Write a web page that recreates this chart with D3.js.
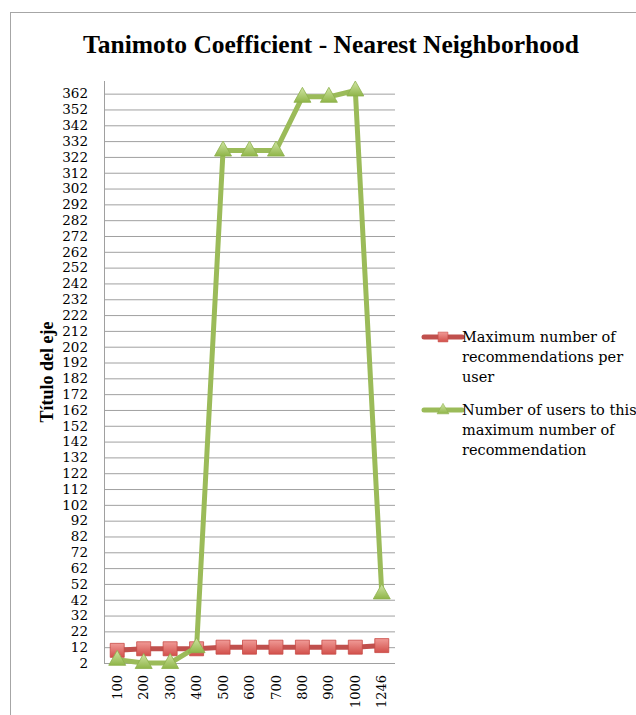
<!DOCTYPE html>
<html>
<head>
<meta charset="utf-8">
<script src="https://cdn.jsdelivr.net/npm/d3@7"></script>
<style>
  html, body { margin: 0; padding: 0; background: #fff; }
  svg { display: block; }
</style>
</head>
<body>
<svg id="chart" width="636" height="715"></svg>
<script>
// Category labels along the x axis
const categories = ["100", "200", "300", "400", "500", "600", "700", "800", "900", "1000", "1246"];
// Series 1: maximum number of recommendations per user
const maxRecommendations = [10, 11, 11, 11, 12, 12, 12, 12, 12, 12, 13];
// Series 2: number of users reaching that maximum
const usersAtMaximum = [4, 2, 2, 12, 326, 326, 326, 360, 360, 364, 46];
// Y axis tick values
const yTickValues = d3.range(2, 363, 10);
const seriesNames = [
  ["Maximum number of", "recommendations per", "user"],
  ["Number of users to this", "maximum number of", "recommendation"]
];

const svg = d3.select("#chart");
const plot = { left: 104, right: 395, top: 81, bottom: 663 };

const x = d3.scaleBand().domain(categories).range([plot.left, plot.right]);
const y = d3.scaleLinear().domain([2, 370]).range([plot.bottom, plot.top]);
const cx = c => x(c) + x.bandwidth() / 2;

// Outer chart frame
svg.append("rect")
  .attr("x", 10.5).attr("y", 12.5)
  .attr("width", 700).attr("height", 800)
  .attr("fill", "none").attr("stroke", "#a6a6a6").attr("stroke-width", 1);

// Gradients for the markers
const defs = svg.append("defs");
const gRed = defs.append("linearGradient").attr("id", "gradRed").attr("x1", 0).attr("y1", 0).attr("x2", 0).attr("y2", 1);
gRed.append("stop").attr("offset", "0%").attr("stop-color", "#f09a96");
gRed.append("stop").attr("offset", "100%").attr("stop-color", "#d2504b");
const gGreen = defs.append("linearGradient").attr("id", "gradGreen").attr("x1", 0).attr("y1", 0).attr("x2", 0).attr("y2", 1);
gGreen.append("stop").attr("offset", "0%").attr("stop-color", "#d2e6a6");
gGreen.append("stop").attr("offset", "100%").attr("stop-color", "#8fb548");

// Title
svg.append("text")
  .attr("x", 331).attr("y", 53)
  .attr("text-anchor", "middle")
  .attr("font-family", "Liberation Serif")
  .attr("font-weight", "bold")
  .attr("font-size", 25.5)
  .attr("fill", "#000")
  .text("Tanimoto Coefficient - Nearest Neighborhood");

// Horizontal gridlines
svg.append("g")
  .attr("transform", `translate(${plot.left},0)`)
  .call(d3.axisLeft(y).tickValues(yTickValues).tickSize(-(plot.right - plot.left)).tickFormat(""))
  .call(g => g.select(".domain").remove())
  .call(g => g.selectAll(".tick line").attr("stroke", "#a0a0a0").attr("stroke-width", 1));

// Y axis line
svg.append("line")
  .attr("x1", plot.left + 0.5).attr("x2", plot.left + 0.5)
  .attr("y1", plot.top).attr("y2", plot.bottom)
  .attr("stroke", "#a0a0a0");

// Y tick labels
svg.append("g")
  .attr("transform", `translate(${plot.left},0)`)
  .call(d3.axisLeft(y).tickValues(yTickValues).tickSize(0).tickPadding(16))
  .call(g => g.select(".domain").remove())
  .call(g => g.selectAll("text")
    .attr("font-family", "DejaVu Serif")
    .attr("font-size", 13.5)
    .attr("fill", "#000"));

// X tick labels (rotated)
svg.append("g")
  .attr("transform", `translate(0,${plot.bottom})`)
  .call(d3.axisBottom(x).tickSize(0))
  .call(g => g.select(".domain").remove())
  .call(g => g.selectAll("text")
    .attr("font-family", "DejaVu Serif")
    .attr("font-size", 13)
    .attr("fill", "#000")
    .attr("text-anchor", "end")
    .attr("transform", "rotate(-90)")
    .attr("x", -12)
    .attr("y", 0)
    .attr("dy", "0.35em"));

// Y axis title
svg.append("text")
  .attr("transform", `translate(53,${(plot.top + plot.bottom) / 2}) rotate(-90)`)
  .attr("text-anchor", "middle")
  .attr("font-family", "Liberation Serif")
  .attr("font-weight", "bold")
  .attr("font-size", 18)
  .text("Título del eje");

const line = d3.line().x(d => cx(d.c)).y(d => y(d.v));
const squarePath = d3.symbol().type(d3.symbolSquare).size(196);
const trianglePath = () => "M0,-9.5 L8.5,5.5 L-8.5,5.5 Z";

// Series 1 line and square markers
const s1 = categories.map((c, i) => ({ c, v: maxRecommendations[i] }));
svg.append("path").datum(s1)
  .attr("d", line).attr("fill", "none")
  .attr("stroke", "#c0504d").attr("stroke-width", 5).attr("stroke-linejoin", "round");
svg.append("g").selectAll("path").data(s1).join("path")
  .attr("transform", d => `translate(${cx(d.c)},${y(d.v)})`)
  .attr("d", squarePath())
  .attr("fill", "url(#gradRed)").attr("stroke", "#c84a45").attr("stroke-width", 0.8);

// Series 2 line and triangle markers
const s2 = categories.map((c, i) => ({ c, v: usersAtMaximum[i] }));
svg.append("path").datum(s2)
  .attr("d", line).attr("fill", "none")
  .attr("stroke", "#9bbb59").attr("stroke-width", 5).attr("stroke-linejoin", "round");
svg.append("g").selectAll("path").data(s2).join("path")
  .attr("transform", d => `translate(${cx(d.c)},${y(d.v)})`)
  .attr("d", trianglePath())
  .attr("fill", "url(#gradGreen)").attr("stroke", "#8db04d").attr("stroke-width", 0.8);

// Legend
const legend = svg.append("g");
const legendItems = [
  { y: 337, color: "#c0504d", fill: "url(#gradRed)", stroke: "#c84a45", marker: squarePath().toString(), scale: 0.7, lines: seriesNames[0] },
  { y: 410, color: "#9bbb59", fill: "url(#gradGreen)", stroke: "#8db04d", marker: trianglePath(), scale: 0.7, lines: seriesNames[1] }
];
legendItems.forEach(it => {
  legend.append("line")
    .attr("x1", 424).attr("x2", 462).attr("y1", it.y).attr("y2", it.y)
    .attr("stroke", it.color).attr("stroke-width", 5).attr("stroke-linecap", "round");
  legend.append("path")
    .attr("transform", `translate(443,${it.y}) scale(${it.scale})`)
    .attr("d", it.marker)
    .attr("fill", it.fill).attr("stroke", it.stroke).attr("stroke-width", 0.8);
  const t = legend.append("text")
    .attr("font-family", "DejaVu Serif")
    .attr("font-size", 14.5)
    .attr("fill", "#000");
  it.lines.forEach((s, i) => {
    t.append("tspan").attr("x", 462).attr("y", it.y + 5 + i * 20).text(s);
  });
});
</script>
</body>
</html>
